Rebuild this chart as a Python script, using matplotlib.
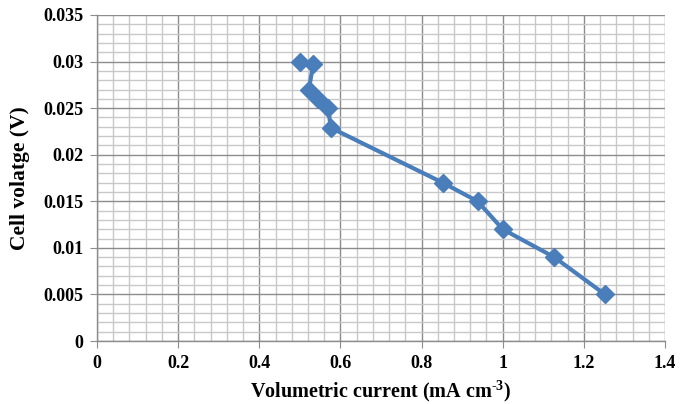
import matplotlib
matplotlib.use("Agg")
import matplotlib.pyplot as plt
from matplotlib.ticker import MultipleLocator, FuncFormatter

current = [0.50, 0.533, 0.522, 0.545, 0.570, 0.576, 0.852, 0.938, 1.0, 1.127, 1.252]
voltage = [0.0300, 0.0297, 0.0270, 0.0260, 0.0250, 0.0229, 0.0170, 0.0150, 0.0120, 0.0090, 0.0050]

x_ticks = [0, 0.2, 0.4, 0.6, 0.8, 1, 1.2, 1.4]
y_ticks = [0, 0.005, 0.01, 0.015, 0.02, 0.025, 0.03, 0.035]

plt.rcParams['font.family'] = ['Liberation Serif', 'DejaVu Serif']
plt.rcParams['mathtext.fontset'] = 'custom'
plt.rcParams['mathtext.rm'] = 'Liberation Serif:bold'
plt.rcParams['mathtext.bf'] = 'Liberation Serif:bold'
plt.rcParams['mathtext.it'] = 'Liberation Serif:bold'
plt.rcParams['mathtext.default'] = 'bf'

fig = plt.figure(figsize=(6.82, 4.04), dpi=100)
ax = fig.add_axes([97/682, 1-341/404, (665-97)/682, (341-15)/404])

ax.set_xlim(0, 1.4)
ax.set_ylim(0, 0.035)
ax.set_xticks(x_ticks)
ax.set_yticks(y_ticks)
ax.xaxis.set_minor_locator(MultipleLocator(0.04))
ax.yaxis.set_minor_locator(MultipleLocator(0.001))
ax.xaxis.set_major_formatter(FuncFormatter(lambda v, p: f"{v:g}"))
ax.yaxis.set_major_formatter(FuncFormatter(lambda v, p: f"{v:g}"))

ax.grid(which='minor', color='#c8c8c8', linewidth=1.0)
ax.grid(which='major', color='#8c8c8c', linewidth=1.0)
ax.set_axisbelow(True)

for s in ['top', 'right']:
    ax.spines[s].set_visible(False)
for s in ['left', 'bottom']:
    ax.spines[s].set_color('#8c8c8c')
    ax.spines[s].set_linewidth(1.0)

ax.tick_params(which='major', direction='out', length=5, color='#8c8c8c',
               labelsize=13, pad=5)
ax.tick_params(which='minor', length=0)
for lab in ax.get_xticklabels() + ax.get_yticklabels():
    lab.set_fontweight('bold')

ax.plot(current, voltage, color='#4a7ebb', linewidth=3, marker='D',
        markersize=9, markerfacecolor='#4a7ebb', markeredgecolor='#4a7ebb',
        clip_on=False, zorder=3)

ax.set_xlabel('Volumetric current (mA cm$^{\\text{-3}}$)', fontsize=14.5,
              fontweight='bold', labelpad=5)
ax.set_ylabel('Cell volatge (V)', fontsize=15.5, fontweight='bold', labelpad=9)

fig.savefig('out.png', dpi=100)
